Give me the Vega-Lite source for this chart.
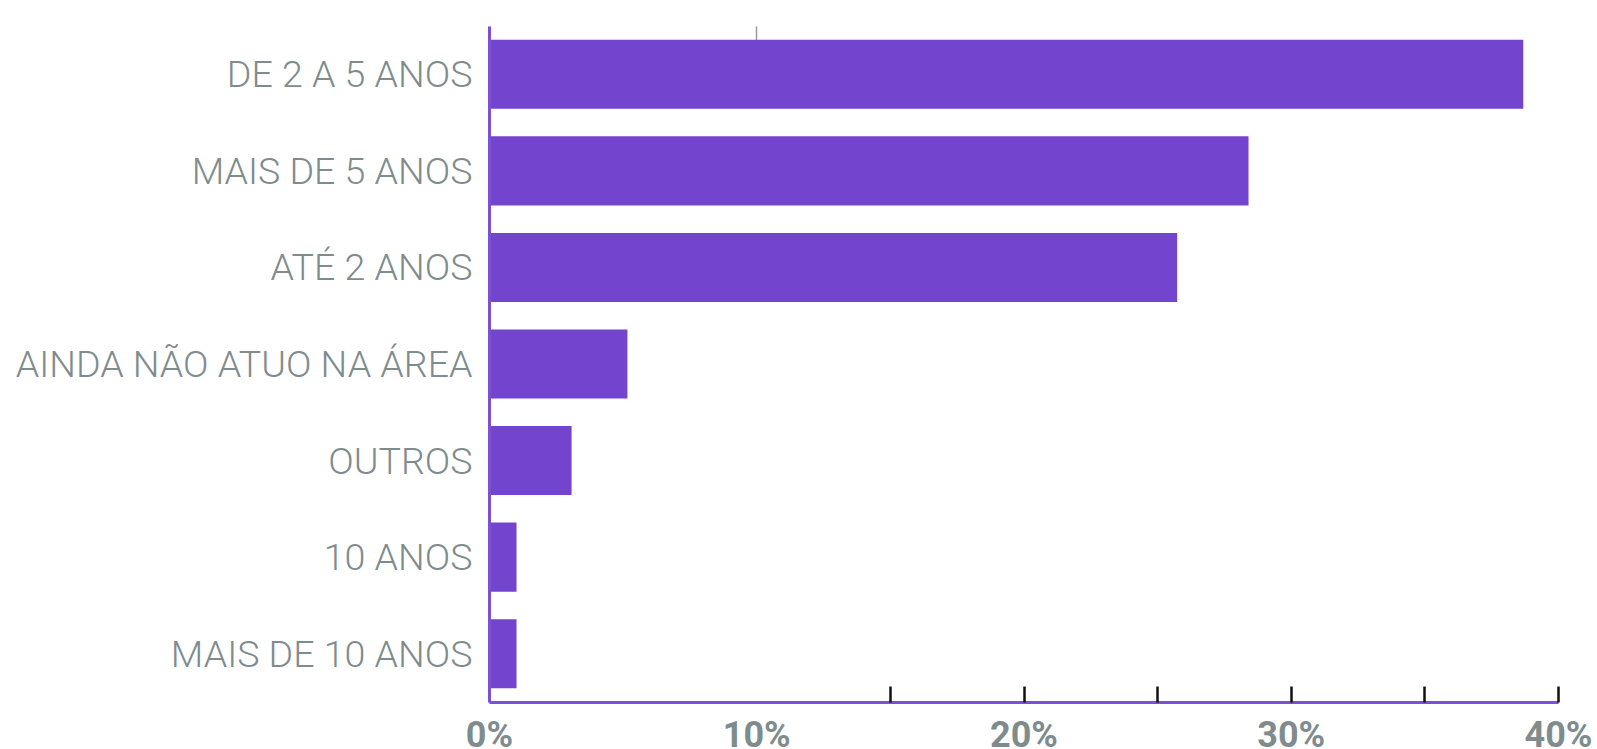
{
  "$schema": "https://vega.github.io/schema/vega-lite/v6.json",
  "autosize": {"type": "none"},
  "padding": {"left": 489, "top": 26, "right": 39, "bottom": 47},
  "width": 1069,
  "height": 676,
  "background": "white",
  "config": {"view": {"stroke": null}},
  "data": {
    "values": [
      {"categoria": "DE 2 A 5 ANOS", "pct": 38.7},
      {"categoria": "MAIS DE 5 ANOS", "pct": 28.42},
      {"categoria": "ATÉ 2 ANOS", "pct": 25.75},
      {"categoria": "AINDA NÃO ATUO NA ÁREA", "pct": 5.18},
      {"categoria": "OUTROS", "pct": 3.09},
      {"categoria": "10 ANOS", "pct": 1.03},
      {"categoria": "MAIS DE 10 ANOS", "pct": 1.03}
    ]
  },
  "encoding": {
    "y": {
      "field": "categoria",
      "type": "nominal",
      "sort": null,
      "scale": {"paddingInner": 0.285, "paddingOuter": 0.1425},
      "axis": {
        "title": null,
        "ticks": false,
        "domainColor": "#7b4fd6",
        "domainWidth": 3,
        "labelFont": "Roboto",
        "labelFontWeight": 300,
        "labelFontSize": 37.6,
        "labelColor": "#7f8c8d",
        "labelPadding": 17,
        "labelLimit": 600,
        "labelBaseline": "middle",
        "labelOffset": 2,
        "zindex": 1
      }
    }
  },
  "layer": [
    {
      "mark": {"type": "bar", "color": "#7345cf"},
      "encoding": {
        "x": {
          "field": "pct",
          "type": "quantitative",
          "scale": {"domain": [0, 40], "nice": false},
          "axis": {
            "title": null,
            "values": [0, 10, 20, 30, 40],
            "labelExpr": "datum.value + '%'",
            "ticks": false,
            "grid": false,
            "domainColor": "#7b4fd6",
            "domainWidth": 3,
            "labelFont": "Roboto",
            "labelFontWeight": "bold",
            "labelFontSize": 36,
            "labelColor": "#7f8c8d",
            "labelPadding": 16,
            "labelFlush": false,
            "labelOverlap": false,
            "labelBound": false,
            "zindex": 1
          }
        }
      }
    },
    {
      "mark": {"type": "bar", "opacity": 0},
      "encoding": {
        "x": {
          "field": "pct",
          "type": "quantitative",
          "axis": {
            "title": null,
            "orient": "bottom",
            "values": [15, 20, 25, 30, 35, 40],
            "labels": false,
            "domain": false,
            "grid": false,
            "ticks": true,
            "tickColor": "#111111",
            "tickWidth": 2.5,
            "tickSize": -16,
            "zindex": 2
          }
        }
      }
    },
    {
      "mark": {"type": "bar", "opacity": 0},
      "encoding": {
        "x": {
          "field": "pct",
          "type": "quantitative",
          "axis": {
            "title": null,
            "orient": "top",
            "values": [10],
            "labels": false,
            "domain": false,
            "grid": false,
            "ticks": true,
            "tickColor": "#999999",
            "tickWidth": 1.5,
            "tickSize": -14,
            "zindex": 0
          }
        }
      }
    }
  ],
  "resolve": {"axis": {"x": "independent"}}
}
